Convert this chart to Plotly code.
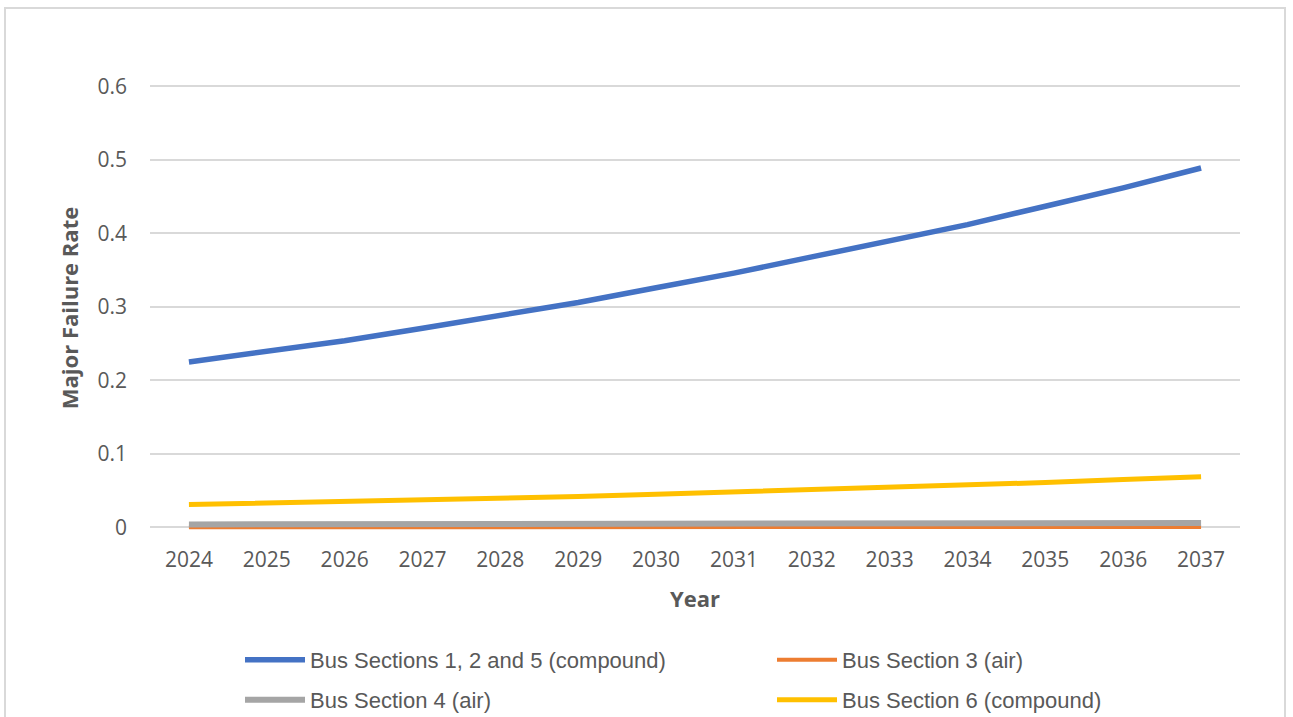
import plotly.graph_objects as go

years = [str(y) for y in range(2024, 2038)]
bus_125 = [0.225, 0.240, 0.254, 0.271, 0.288, 0.306, 0.326, 0.346, 0.368, 0.390, 0.412, 0.437, 0.462, 0.489]
bus_3 = [0.0002, 0.0002, 0.0002, 0.0002, 0.0002, 0.0003, 0.0003, 0.0003, 0.0003, 0.0003, 0.0003, 0.0004, 0.0004, 0.0004]
bus_4 = [0.0040, 0.0041, 0.0042, 0.0043, 0.0044, 0.0046, 0.0048, 0.0050, 0.0052, 0.0053, 0.0055, 0.0056, 0.0058, 0.0060]
bus_6 = [0.031, 0.033, 0.035, 0.037, 0.040, 0.042, 0.045, 0.048, 0.051, 0.055, 0.058, 0.061, 0.065, 0.069]

names = ["Bus Sections 1, 2 and 5 (compound)", "Bus Section 3 (air)",
         "Bus Section 4 (air)", "Bus Section 6 (compound)"]
colors = ["#4472C4", "#ED7D31", "#A5A5A5", "#FFC000"]
widths = [5.5, 4, 6, 5]
series = [bus_125, bus_3, bus_4, bus_6]
legends = ["legend", "legend", "legend2", "legend2"]

W, H = 1293, 717
ymin, ymax = -0.005, 0.602
# plot area: y=0 at 527px, 0.1 per 73.5px
px_per = 735.0
T = int(round(527 - ymax * px_per))
bottom_px = 527 - ymin * px_per
L, R = 150, 53
B = int(round(H - bottom_px))

fig = go.Figure()
for n, c, w, s, lg in zip(names, colors, widths, series, legends):
    fig.add_trace(go.Scatter(x=years, y=s, name=n, mode="lines",
                             line=dict(color=c, width=w), legend=lg))

ph = H - T - B
pw = W - L - R
def px_x(px):
    return (px - L) / pw
def px_y(py):
    return (H - B - py) / ph

tick_font = dict(family="Open Sans", size=21, color="#595959")
title_font = dict(family="Open Sans", size=22, color="#595959", weight="bold")
leg_font = dict(family="Liberation Sans", size=22, color="#595959")

leg_common = dict(orientation="h", x=px_x(240), xanchor="left", yanchor="middle",
                  font=leg_font, itemwidth=60, entrywidth=457, entrywidthmode="pixels",
                  bgcolor="rgba(0,0,0,0)", traceorder="normal")

fig.update_layout(
    width=W, height=H,
    margin=dict(l=L, r=R, t=T, b=B, autoexpand=False),
    paper_bgcolor="white", plot_bgcolor="white",
    xaxis=dict(type="category", range=[-0.5, 13.5], showgrid=False,
               showline=False, zeroline=False, ticks="",
               tickfont=tick_font, ticklabelstandoff=14,
               title=dict(text="Year", font=title_font, standoff=19)),
    yaxis=dict(range=[ymin, ymax], tickvals=[0, 0.1, 0.2, 0.3, 0.4, 0.5, 0.6],
               ticktext=["0", "0.1", "0.2", "0.3", "0.4", "0.5", "0.6"],
               showgrid=True, gridcolor="#D9D9D9", gridwidth=1.5,
               zeroline=False, showline=False, ticks="",
               tickfont=tick_font, ticklabelstandoff=22,
               title=dict(text="Major Failure Rate", font=title_font, standoff=12)),
    legend=dict(leg_common, y=px_y(660)),
    legend2=dict(leg_common, y=px_y(700)),
    shapes=[dict(type="rect", xref="paper", yref="paper",
                 x0=px_x(5), x1=px_x(1285), y0=px_y(725), y1=px_y(8),
                 line=dict(color="#D9D9D9", width=2), fillcolor="rgba(0,0,0,0)",
                 layer="below")],
)

fig.write_html("out.html")
